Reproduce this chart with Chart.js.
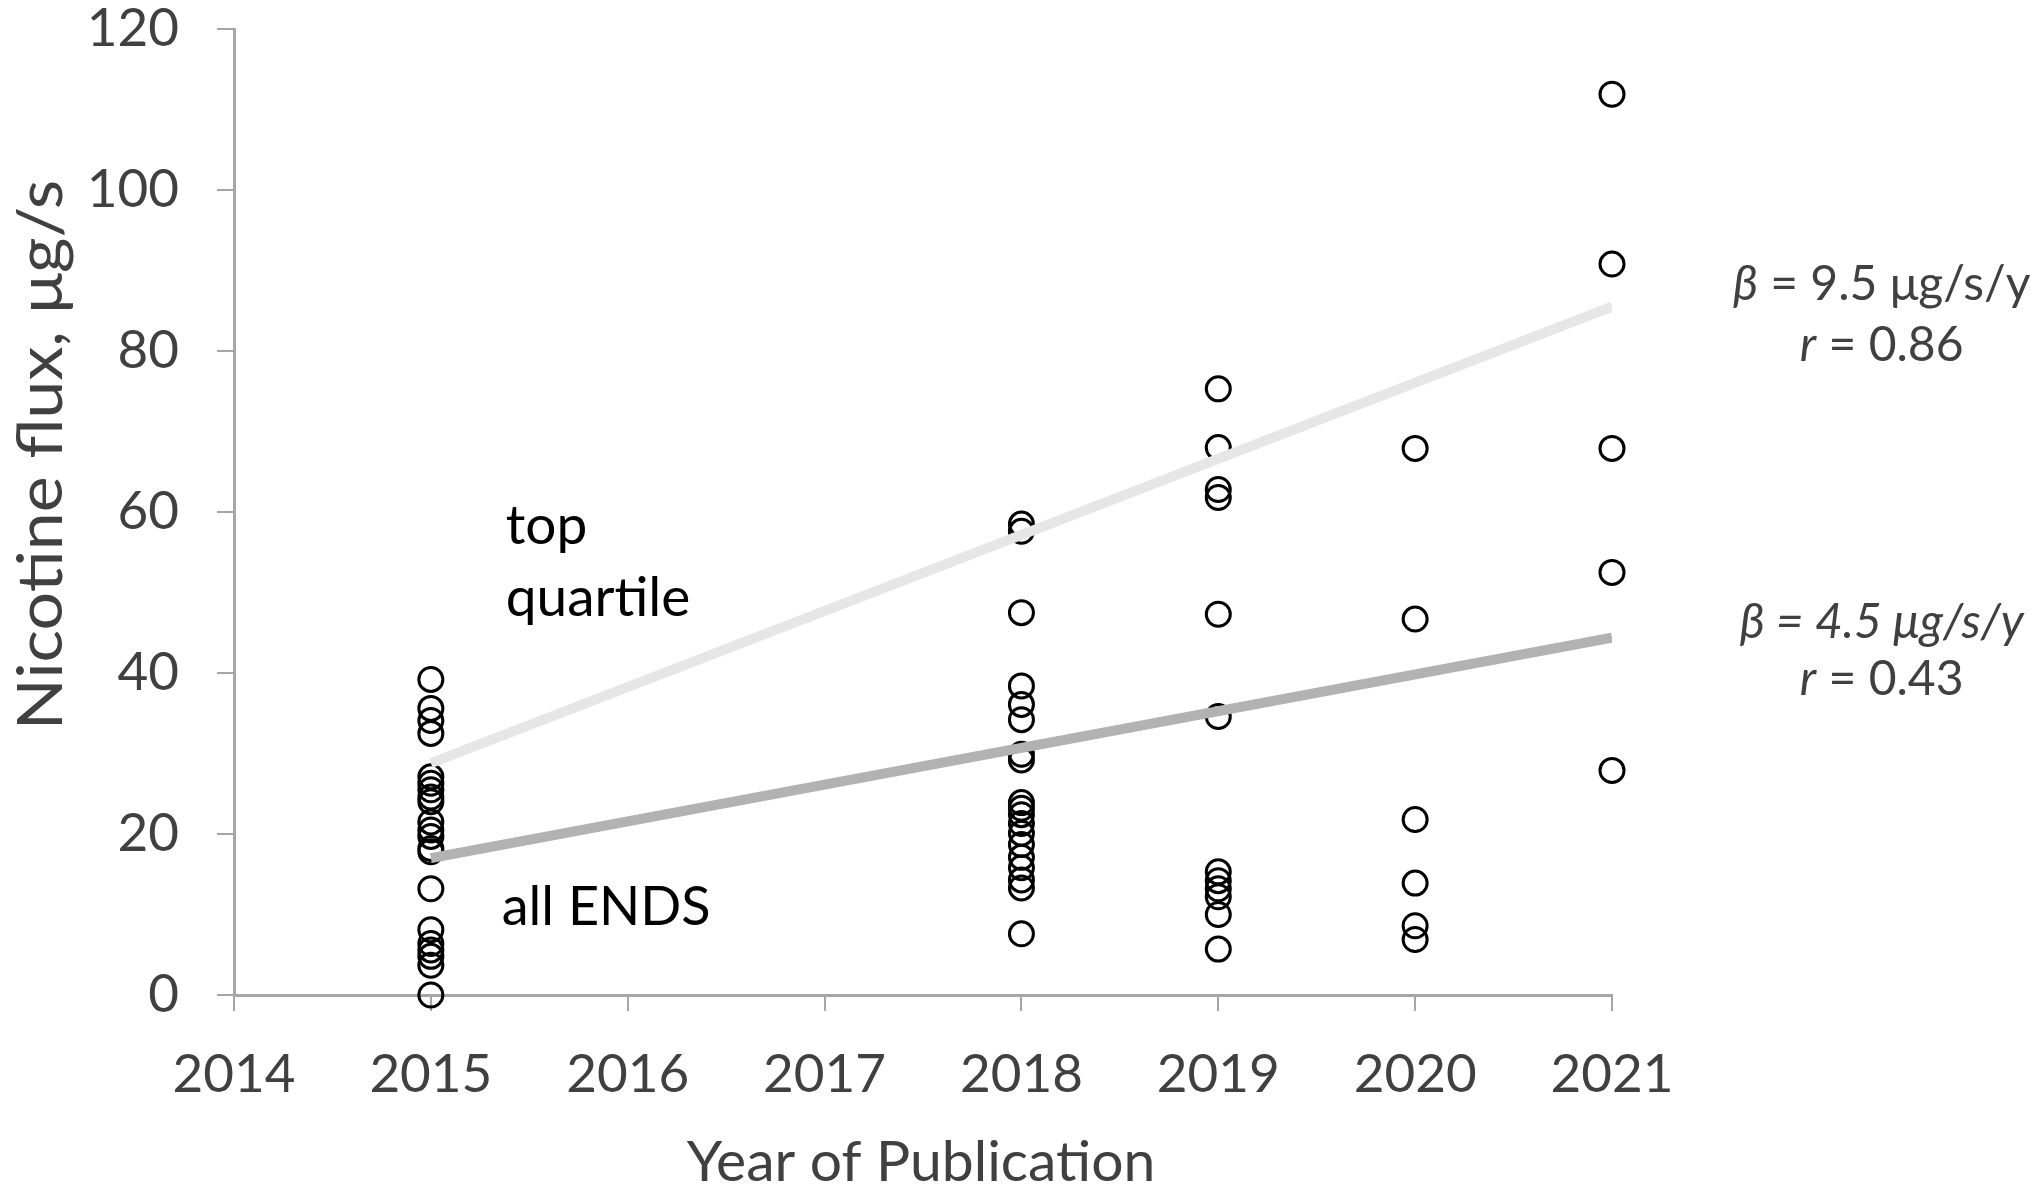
<!DOCTYPE html>
<html>
<head>
<meta charset="utf-8">
<script src="https://cdn.jsdelivr.net/npm/chart.js@4.4.1/dist/chart.umd.min.js"></script>
<style>
  html, body { margin: 0; padding: 0; background: #fff; }
  #wrap { width: 2040px; height: 1194px; position: relative; }
</style>
</head>
<body>
<div id="wrap"><canvas id="c" width="2040" height="1194"></canvas></div>
<script>
// ---- data ----
const yearTicks = [2014, 2015, 2016, 2017, 2018, 2019, 2020, 2021];
const fluxTicks = [0, 20, 40, 60, 80, 100, 120];

const flux2015 = [39.2, 35.6, 34.1, 32.5, 27.1, 26.3, 25.5, 24.6, 24.0, 21.5, 20.5, 19.7, 18.2, 17.8, 13.2, 8.1, 6.4, 5.6, 4.8, 3.7, 0];
const flux2018 = [58.5, 57.6, 47.5, 38.4, 36.1, 34.2, 29.9, 29.2, 23.9, 23.2, 22.4, 21.3, 20.1, 18.7, 17.1, 15.8, 14.3, 13.3, 7.6];
const flux2019 = [75.3, 68.0, 62.8, 61.8, 47.3, 34.6, 15.3, 14.2, 13.2, 12.2, 10.0, 5.7];
const flux2020 = [67.9, 46.7, 21.8, 13.9, 8.6, 6.9];
const flux2021 = [111.9, 90.8, 67.9, 52.5, 27.9];

const trendYears = [2015, 2021];
const trendTopQuartile = [28.8, 85.5];
const trendAllEnds = [17.0, 44.4];

const labelTop = ["top", "quartile"];
const labelAll = "all ENDS";
const xTitle = "Year of Publication";
const yTitle = "Nicotine flux, \u03bcg/s";

// ---- build points ----
const obsYears = [2015, 2018, 2019, 2020, 2021];
const obsValues = [flux2015, flux2018, flux2019, flux2020, flux2021];
const scatterPts = [];
obsYears.forEach((yr, i) => obsValues[i].forEach(v => scatterPts.push({x: yr, y: v})));
const toXY = (xs, ys) => xs.map((x, i) => ({x: x, y: ys[i]}));

const FONT = "Lato, 'Open Sans', sans-serif";
const GREY_TXT = '#404040';
const AXIS = '#a6a6a6';

const textPlugin = {
  id: 'texts',
  afterDraw(chart) {
    const ctx = chart.ctx;
    const xs = chart.scales.x, ys = chart.scales.y;
    ctx.save();
    ctx.textBaseline = 'middle';

    // axis titles
    ctx.fillStyle = GREY_TXT;
    ctx.textAlign = 'center';
    ctx.font = `57px ${FONT}`;
    ctx.fillText(xTitle, 921, 1163);
    ctx.save();
    ctx.translate(42, 455);
    ctx.rotate(-Math.PI / 2);
    ctx.scale(1.1, 1);
    ctx.font = `62px ${FONT}`;
    ctx.fillText(yTitle, 0, 0);
    ctx.restore();

    // inline labels
    ctx.fillStyle = '#000';
    ctx.textAlign = 'left';
    ctx.font = `55px ${FONT}`;
    ctx.fillText(labelTop[0], xs.getPixelForValue(2015.38), ys.getPixelForValue(58.2));
    ctx.fillText(labelTop[1], xs.getPixelForValue(2015.38), ys.getPixelForValue(49.3));
    ctx.font = `54px ${FONT}`;
    ctx.fillText(labelAll, xs.getPixelForValue(2015.36), ys.getPixelForValue(10.9));

    // right annotations (mixed styles, centered)
    function runs(parts, cx, cy) {
      let total = 0;
      parts.forEach(p => { ctx.font = p[1]; total += ctx.measureText(p[0]).width; });
      let x = cx - total / 2;
      ctx.textAlign = 'left';
      parts.forEach(p => { ctx.font = p[1]; ctx.fillText(p[0], x, cy); x += ctx.measureText(p[0]).width; });
    }
    ctx.fillStyle = GREY_TXT;
    const up = `48px ${FONT}`, it = `italic 48px ${FONT}`;
    const cx = xs.getPixelForValue(2022.37);
    runs([["\u03b2", it], [" = 9.5 \u03bcg/s/y", up]], cx, ys.getPixelForValue(88.3));
    runs([["r", it], [" = 0.86", up]], cx, ys.getPixelForValue(80.7));
    runs([["\u03b2 = 4.5 \u03bcg/s/y", it]], cx, ys.getPixelForValue(46.3));
    runs([["r", it], [" = 0.43", up]], cx, ys.getPixelForValue(39.2));
    ctx.restore();
  }
};

new Chart(document.getElementById('c'), {
  type: 'scatter',
  data: {
    datasets: [
      {
        type: 'line', label: 'top quartile trend', data: toXY(trendYears, trendTopQuartile),
        borderColor: '#e6e6e6', borderWidth: 10, borderCapStyle: 'butt', pointRadius: 0, fill: false
      },
      {
        type: 'line', label: 'all ENDS trend', data: toXY(trendYears, trendAllEnds),
        borderColor: '#b2b2b2', borderWidth: 10, borderCapStyle: 'butt', pointRadius: 0, fill: false
      },
      {
        label: 'observations', data: scatterPts, clip: false,
        pointStyle: 'circle', pointRadius: 12, pointBorderWidth: 3,
        pointBorderColor: '#000', pointBackgroundColor: 'rgba(0,0,0,0)'
      }
    ]
  },
  options: {
    responsive: false,
    devicePixelRatio: 1,
    animation: false,
    layout: { padding: { left: 0, top: 29, right: 428, bottom: 0 } },
    plugins: { legend: { display: false }, tooltip: { enabled: false } },
    scales: {
      x: {
        type: 'linear', min: 2014, max: 2021,
        afterBuildTicks: s => { s.ticks = yearTicks.map(v => ({value: v})); },
        afterFit: s => { s.height = 199; s.paddingLeft = 0; s.paddingRight = 0; },
        border: { display: true, color: AXIS, width: 3 },
        grid: { drawOnChartArea: false, drawTicks: true, tickLength: 16, color: AXIS, lineWidth: 2 },
        ticks: { color: GREY_TXT, font: { family: FONT, size: 53 }, padding: 32, maxRotation: 0,
                 callback: v => String(v) }
      },
      y: {
        type: 'linear', min: 0, max: 120,
        afterBuildTicks: s => { s.ticks = fluxTicks.map(v => ({value: v})); },
        afterFit: s => { s.width = 234; s.paddingTop = 0; s.paddingBottom = 0; },
        border: { display: true, color: AXIS, width: 3 },
        grid: { drawOnChartArea: false, drawTicks: true, tickLength: 17, color: AXIS, lineWidth: 2 },
        ticks: { color: GREY_TXT, font: { family: FONT, size: 53 }, padding: 38,
                 callback: v => String(v) }
      }
    }
  },
  plugins: [textPlugin]
});
</script>
</body>
</html>
